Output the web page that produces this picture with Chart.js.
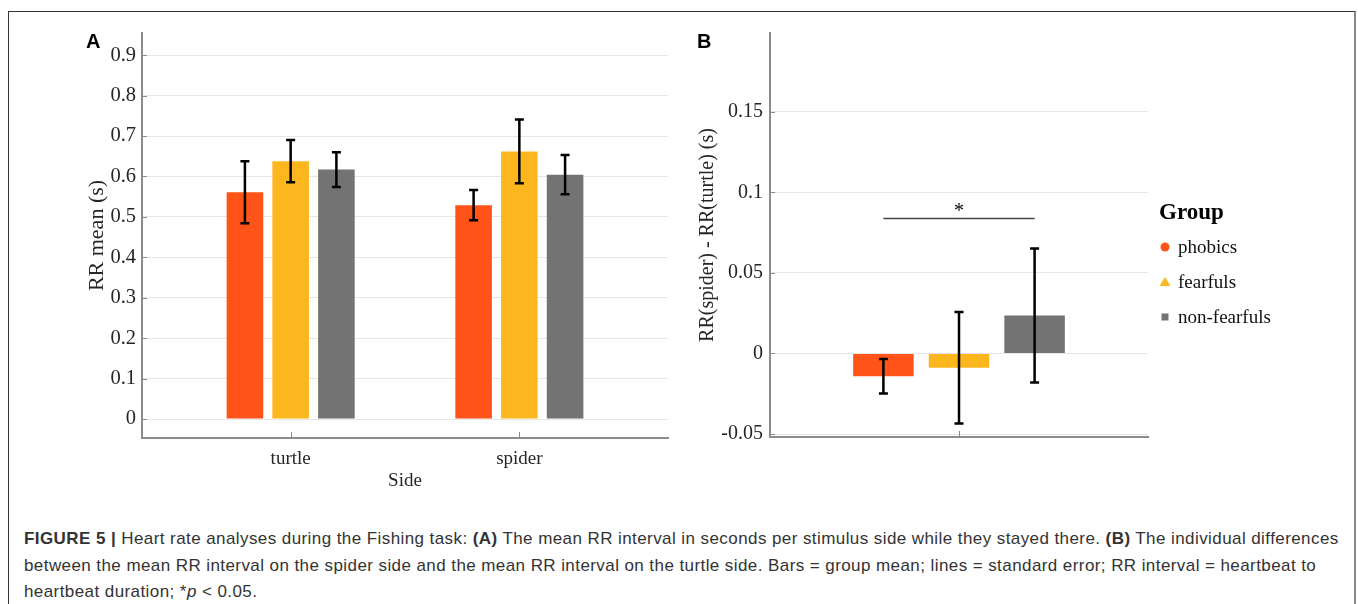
<!DOCTYPE html>
<html>
<head>
<meta charset="utf-8">
<script src="https://cdn.jsdelivr.net/npm/chart.js@4.4.1/dist/chart.umd.min.js"></script>
<style>
  html, body { margin: 0; padding: 0; background: #fff; }
  body { width: 1358px; height: 604px; position: relative; overflow: hidden; }
  .frame { position: absolute; left: 8px; top: 11px; width: 1348px; height: 700px; box-sizing: border-box;
    border-top: 1.5px solid #333; border-left: 1.5px solid #333; border-right: 2px solid #8a8a8a; }
  #chartA { position: absolute; left: 0; top: 0; }
  #chartB { position: absolute; left: 690px; top: 0; }
  .panel { position: absolute; font: bold 20px/20px 'Liberation Sans', Arial, sans-serif; color: #000; }
  .caption { position: absolute; left: 24px; top: 526px; font: 17px/26.5px 'Liberation Sans', Arial, sans-serif;
    letter-spacing: 0.42px; color: #333; white-space: nowrap; }
</style>
</head>
<body>
<div class="frame"></div>
<canvas id="chartA" width="690" height="500"></canvas>
<canvas id="chartB" width="668" height="500"></canvas>
<div class="panel" style="left:86px; top:31px;">A</div>
<div class="panel" style="left:697px; top:31px;">B</div>
<div class="caption">
  <b>FIGURE 5 |</b> Heart rate analyses during the Fishing task: <b>(A)</b> The mean RR interval in seconds per stimulus side while they stayed there. <b>(B)</b> The individual differences<br>
  between the mean RR interval on the spider side and the mean RR interval on the turtle side. Bars = group mean; lines = standard error; RR interval = heartbeat to<br>
  heartbeat duration; *<i>p</i> &lt; 0.05.
</div>
<script>
// values
const sides = ['turtle', 'spider'];
const groups = ['phobics', 'fearfuls', 'non-fearfuls'];
const colors = ['#ff5319', '#fdb71e', '#737373'];

const phobicsMean = [0.561, 0.529];
const phobicsSE = [0.077, 0.0375];
const fearfulsMean = [0.638, 0.662];
const fearfulsSE = [0.052, 0.079];
const nonFearfulsMean = [0.617, 0.6045];
const nonFearfulsSE = [0.043, 0.0485];

const diffMean = [-0.0141, -0.0089, 0.0236];
const diffSE = [0.0107, 0.0346, 0.0416];
const sigPair = [0, 2];
const sigLevel = 0.0838;

const yTicksA = [0, 0.1, 0.2, 0.3, 0.4, 0.5, 0.6, 0.7, 0.8, 0.9];
const yTicksB = [-0.05, 0, 0.05, 0.1, 0.15];

const serif = 'Liberation Serif';
const textColor = '#262626';
const axisColor = '#8c8c8c';
const gridColor = '#e6e6e6';

const errorBars = {
  id: 'errorBars',
  afterDatasetsDraw(chart) {
    const { ctx } = chart;
    const y = chart.scales.y;
    ctx.save();
    ctx.strokeStyle = '#000';
    ctx.lineWidth = 2.5;
    chart.data.datasets.forEach((ds, i) => {
      chart.getDatasetMeta(i).data.forEach((bar, j) => {
        const v = ds.data[j];
        const m = typeof v === 'object' ? v.y : v;
        const top = y.getPixelForValue(m + ds.errors[j]);
        const bot = y.getPixelForValue(m - ds.errors[j]);
        ctx.beginPath();
        ctx.moveTo(bar.x, top); ctx.lineTo(bar.x, bot);
        ctx.moveTo(bar.x - 4.5, top); ctx.lineTo(bar.x + 4.5, top);
        ctx.moveTo(bar.x - 4.5, bot); ctx.lineTo(bar.x + 4.5, bot);
        ctx.stroke();
      });
    });
    ctx.restore();
  }
};

// matlab style ticks pointing into the plot
const innerTicks = {
  id: 'innerTicks',
  afterDraw(chart) {
    const { ctx, chartArea: a } = chart;
    const { x, y } = chart.scales;
    ctx.save();
    ctx.strokeStyle = '#8a8a8a';
    ctx.lineWidth = 1;
    ctx.beginPath();
    y.ticks.forEach((t, i) => {
      const py = Math.round(y.getPixelForTick(i)) + 0.5;
      ctx.moveTo(a.left, py); ctx.lineTo(a.left + 5, py);
    });
    x.ticks.forEach((t, i) => {
      const px = Math.round(x.getPixelForTick(i)) + 0.5;
      ctx.moveTo(px, a.bottom); ctx.lineTo(px, a.bottom - 6);
    });
    ctx.stroke();
    ctx.restore();
  }
};

const axisTitle = (text, pad, size) => ({
  display: true, text, color: textColor, padding: pad,
  font: { family: serif, size, lineHeight: 1.2 }
});

new Chart(document.getElementById('chartA'), {
  type: 'bar',
  data: {
    datasets: [
      { label: groups[0], data: phobicsMean.map((v, i) => ({ x: i + 1, y: v })), errors: phobicsSE, backgroundColor: colors[0] },
      { label: groups[1], data: fearfulsMean.map((v, i) => ({ x: i + 1, y: v })), errors: fearfulsSE, backgroundColor: colors[1] },
      { label: groups[2], data: nonFearfulsMean.map((v, i) => ({ x: i + 1, y: v })), errors: nonFearfulsSE, backgroundColor: colors[2] }
    ]
  },
  options: {
    responsive: false,
    animation: false,
    layout: { padding: { top: 33, right: 22, left: 0, bottom: 0 } },
    datasets: { bar: { categoryPercentage: 0.6, barPercentage: 0.8 } },
    plugins: { legend: { display: false }, tooltip: { enabled: false } },
    scales: {
      x: {
        type: 'linear', min: 0.35, max: 2.65, offset: false,
        afterBuildTicks: s => { s.ticks = sides.map((_, i) => ({ value: i + 1 })); },
        afterFit: s => { s.height = 62; },
        grid: { display: false, offset: false },
        border: { color: axisColor, width: 2 },
        ticks: { padding: 2, color: textColor, font: { family: serif, size: 19 }, callback: v => sides[v - 1] },
        title: axisTitle('Side', { top: 0, bottom: 7.5 }, 19)
      },
      y: {
        min: -0.047, max: 0.955,
        afterBuildTicks: s => { s.ticks = yTicksA.map(v => ({ value: v })); },
        afterFit: s => { s.width = 142; },
        grid: { color: gridColor, drawTicks: false },
        border: { color: axisColor, width: 2 },
        ticks: { padding: 6, color: textColor, font: { family: serif, size: 20.5 }, callback: v => String(v) },
        title: axisTitle('RR mean (s)', { top: 84, bottom: 0 }, 22)
      }
    }
  },
  plugins: [errorBars, innerTicks]
});

const sigBar = {
  id: 'sigBar',
  afterDraw(chart) {
    const { ctx } = chart;
    const x1 = chart.getDatasetMeta(sigPair[0]).data[0].x;
    const x2 = chart.getDatasetMeta(sigPair[1]).data[0].x;
    const py = chart.scales.y.getPixelForValue(sigLevel);
    ctx.save();
    ctx.strokeStyle = '#444';
    ctx.lineWidth = 1.5;
    ctx.beginPath();
    ctx.moveTo(x1, py); ctx.lineTo(x2, py);
    ctx.stroke();
    ctx.fillStyle = '#000';
    ctx.font = '20px ' + serif;
    ctx.textAlign = 'center';
    ctx.textBaseline = 'alphabetic';
    ctx.fillText('*', (x1 + x2) / 2, py - 1);
    ctx.restore();
  }
};

const groupLegend = {
  id: 'groupLegend',
  afterDraw(chart) {
    const { ctx, chartArea: a } = chart;
    const x0 = a.right + 11;
    ctx.save();
    ctx.textBaseline = 'middle';
    ctx.fillStyle = '#000';
    ctx.font = 'bold 23px ' + serif;
    ctx.fillText('Group', x0, 213);
    ctx.font = '19px ' + serif;
    chart.data.datasets.forEach((ds, i) => {
      const cy = 247 + i * 35;
      const cx = x0 + 6;
      ctx.fillStyle = ds.backgroundColor;
      ctx.beginPath();
      if (i === 0) ctx.arc(cx, cy, 4.5, 0, Math.PI * 2);
      else if (i === 1) { ctx.moveTo(cx, cy - 5); ctx.lineTo(cx + 5.5, cy + 4); ctx.lineTo(cx - 5.5, cy + 4); ctx.closePath(); }
      else ctx.rect(cx - 3.5, cy - 3.5, 7, 7);
      ctx.fill();
      ctx.fillStyle = '#111';
      ctx.fillText(ds.label, x0 + 19, cy + 1);
    });
    ctx.restore();
  }
};

new Chart(document.getElementById('chartB'), {
  type: 'bar',
  data: {
    labels: [''],
    datasets: groups.map((g, i) => ({ label: g, data: [diffMean[i]], errors: [diffSE[i]], backgroundColor: colors[i] }))
  },
  options: {
    responsive: false,
    animation: false,
    layout: { padding: { top: 33, right: 210, left: 0, bottom: 0 } },
    datasets: { bar: { categoryPercentage: 0.6, barPercentage: 0.8 } },
    plugins: { legend: { display: false }, tooltip: { enabled: false } },
    scales: {
      x: {
        afterFit: s => { s.height = 63; },
        grid: { display: false },
        border: { color: axisColor, width: 2 },
        ticks: { display: false }
      },
      y: {
        min: -0.0518, max: 0.1988,
        afterBuildTicks: s => { s.ticks = yTicksB.map(v => ({ value: v })); },
        afterFit: s => { s.width = 80; },
        grid: { color: gridColor, drawTicks: false },
        border: { color: axisColor, width: 2 },
        ticks: { padding: 7, color: textColor, font: { family: serif, size: 20 }, callback: v => String(v) },
        title: axisTitle('RR(spider) - RR(turtle) (s)', { top: 6, bottom: 0 }, 20)
      }
    }
  },
  plugins: [errorBars, innerTicks, sigBar, groupLegend]
});
</script>
</body>
</html>
